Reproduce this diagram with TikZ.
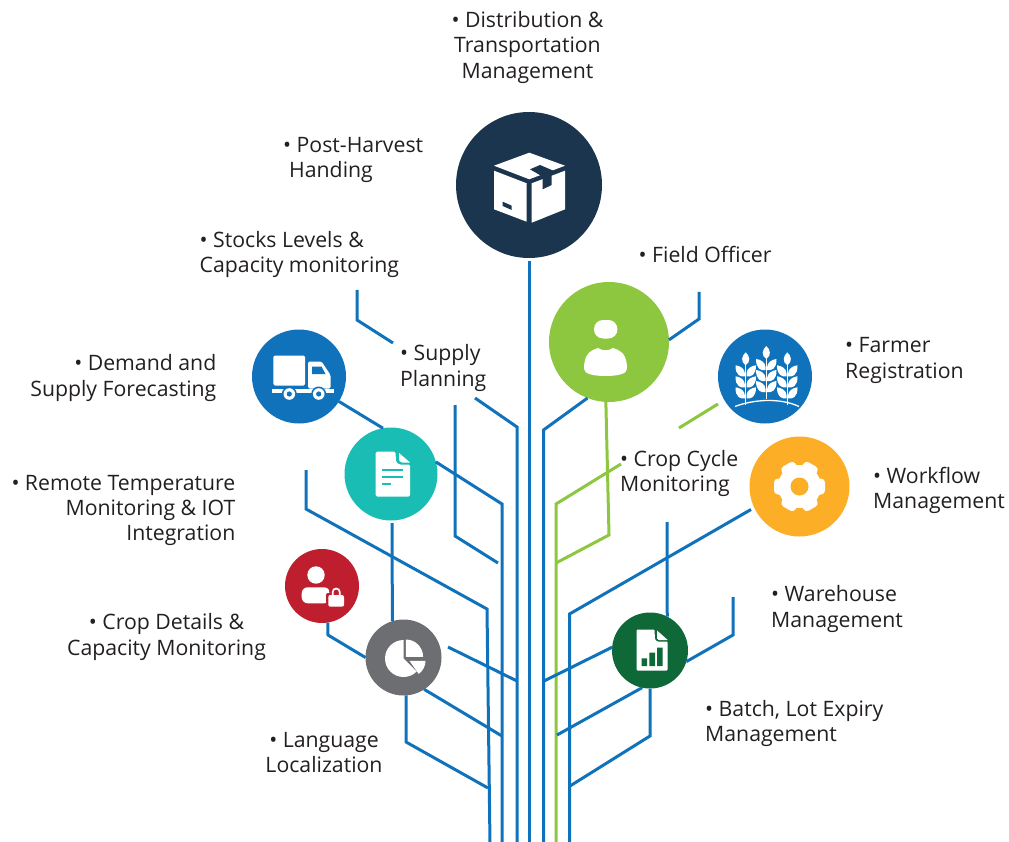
\documentclass[tikz,border=0pt]{standalone}
\usepackage{fontspec}
\setmainfont{Open Sans}
\definecolor{navy}{HTML}{1B354F}
\definecolor{leaf}{HTML}{8DC63F}
\definecolor{bluec}{HTML}{1072BA}
\definecolor{tealc}{HTML}{19BDB3}
\definecolor{redc}{HTML}{BE1E2D}
\definecolor{grayc}{HTML}{6D6E71}
\definecolor{forest}{HTML}{0F6838}
\definecolor{amber}{HTML}{FBAE26}
\definecolor{inkc}{HTML}{231F20}
\tikzset{
  hub/.style={circle,inner sep=0pt,outer sep=0pt,minimum size=#1},
  wire/.style={draw=bluec,line width=3pt,miter limit=10},
  greenwire/.style={draw=leaf,line width=3pt,miter limit=10},
  lab/.style={text=inkc,inner sep=0pt,font=\fontsize{21.25}{25.4}\selectfont},
  labl/.style={lab,anchor=west,align=left},
  labr/.style={lab,anchor=east,align=right},
  labc/.style={lab,anchor=center,align=center},
}
\newcommand\wheatstalk[2]{%
  \begin{scope}[shift={(#1,#2)}]
    \draw[white,line width=1.2pt] (0,-18) -- (0,22.5);
    \fill[white] (0,-17.5) .. controls (-5.5,-21) and (-4,-27) .. (0,-30.5) .. controls (4,-27) and (5.5,-21) .. (0,-17.5) -- cycle;
    \foreach \ly in {-6.5,4.5,15.5}{
      \begin{scope}[shift={(0,\ly)}]
        \fill[white] (-0.8,0) .. controls (-5,1) and (-10.5,-1) .. (-10.2,-11) .. controls (-6,-10.5) and (-1,-8) .. (-0.8,-3) -- cycle;
        \fill[white] (0.8,0) .. controls (5,1) and (10.5,-1) .. (10.2,-11) .. controls (6,-10.5) and (1,-8) .. (0.8,-3) -- cycle;
      \end{scope}
    }
  \end{scope}}
\begin{document}
\begin{tikzpicture}[x=1pt,y=1pt,yscale=-1]
\useasboundingbox (0,0) rectangle (1009,842);
% hubs
\node[hub=146pt,fill=navy]   (box)     at (529,185)   {};
\node[hub=120pt,fill=leaf]   (officer) at (609,342)   {};
\node[hub=94pt,fill=bluec]   (wheat)   at (765,376.5) {};
\node[hub=100pt,fill=amber]  (gear)    at (799.5,486.5) {};
\node[hub=76pt,fill=forest]  (chart)   at (650,650.5) {};
\node[hub=94pt,fill=bluec]   (truck)   at (299,376.5) {};
\node[hub=93pt,fill=tealc]   (doc)     at (391,474)   {};
\node[hub=74pt,fill=redc]    (lock)    at (322,586)   {};
\node[hub=76pt,fill=grayc]   (pie)     at (403.5,657.5) {};
% named bends and free ends
\coordinate (boxend) at (529,261);   \coordinate (b529) at (529,844);
\coordinate (sp1) at (475,398); \coordinate (sp2) at (517,427); \coordinate (b517) at (517,844);
\coordinate (sl1) at (455,405); \coordinate (sl2) at (455,536); \coordinate (sl3) at (498,563);
\coordinate (st1) at (357,290); \coordinate (st2) at (357,320); \coordinate (st3) at (393,343);
\coordinate (dr1) at (502,504); \coordinate (b502) at (502,844);
\coordinate (rt1) at (306,470); \coordinate (rt2) at (306,509); \coordinate (rt3) at (487,609); \coordinate (b490) at (490,844);
\coordinate (docb) at (392,523);
\coordinate (lk1) at (328,635);
\coordinate (pr1) at (448,647); \coordinate (pr2) at (517,681);
\coordinate (pl1) at (502,736);
\coordinate (pb1) at (406,742); \coordinate (pb2) at (488,788);
\coordinate (of1) at (699,292); \coordinate (of2) at (699,319);
\coordinate (of3) at (543.5,430); \coordinate (b543) at (543.5,844);
\coordinate (gd1) at (609,535); \coordinate (gd2) at (556,563);
\coordinate (wh1) at (718,404); \coordinate (wh2) at (679,428);
\coordinate (cc1) at (621,464); \coordinate (cc2) at (556,504); \coordinate (b556) at (556,844);
\coordinate (gearend) at (751,509.5);
\coordinate (gr1) at (569.5,614); \coordinate (b569) at (569.5,844);
\coordinate (cy1) at (667,522);
\coordinate (ch1) at (544,681);
\coordinate (wa1) at (733,597); \coordinate (wa2) at (733,635);
\coordinate (ch2) at (557,735);
\coordinate (ch3) at (650,736); \coordinate (ch4) at (570,786);
% connectors
\draw[greenwire] (officer.267) -- (gd1) -- (gd2);
\draw[greenwire] (wh1) -- (wh2);
\draw[greenwire] (cc1) -- (cc2) -- (b556);
\draw[wire] (boxend) -- (b529);
\draw[wire] (sp1) -- (sp2) -- (b517);
\draw[wire] (sl1) -- (sl2) -- (sl3);
\draw[wire] (st1) -- (st2) -- (st3);
\draw[wire] (truck.328) -- (doc.100);
\draw[wire] (doc.15) -- (dr1) -- (b502);
\draw[wire] (rt1) -- (rt2) -- (rt3) -- (b490);
\draw[wire] (docb) -- (pie.107);
\draw[wire] (lock.279) -- (lk1) -- (pie.180);
\draw[wire] (pr1) -- (pr2);
\draw[wire] (pie.303) -- (pl1);
\draw[wire] (pie.274) -- (pb1) -- (pb2);
\draw[wire] (of1) -- (of2) -- (officer.2);
\draw[wire] (officer.249) -- (of3) -- (b543);
\draw[wire] (gearend) -- (gr1) -- (b569);
\draw[wire] (cy1) -- (chart.63);
\draw[wire] (chart.175) -- (ch1);
\draw[wire] (wa1) -- (wa2) -- (chart.343);
\draw[wire] (chart.258) -- (ch2);
\draw[wire] (chart.270) -- (ch3) -- (ch4);
% box icon
\begin{scope}[shift={(529,185)}]
  \fill[white] (-35,-19.3) -- (0.3,-32.3) -- (36,-19.3) -- (0.3,-5.7) -- cycle;
  \fill[white] (-35,-14.3) -- (-2.3,-1.7) -- (-2.3,36.7) -- (-35,24.3) -- cycle;
  \fill[white] (2.7,-1.7) -- (36,-14.3) -- (36,24.3) -- (2.7,37.7) -- cycle;
  \fill[navy] (1,-15.7) -- (11,-20) -- (24.3,-14.3) -- (22.7,-10) -- (22.7,0) -- (13.7,4.3) -- (13.7,-8.3) -- cycle;
  \fill[navy] (-26.3,16.7) -- (-17.3,20.7) -- (-17.3,25) -- (-26.3,21) -- cycle;
\end{scope}
% person icon
\begin{scope}[shift={(609,342)}]
  \fill[white,rounded corners=9pt] (-15,-22) rectangle (8.4,-3.5);
  \fill[white] (-25,27) .. controls (-25,13) and (-20,9) .. (-11,6) .. controls (-7,9) and (0,9) .. (4,6) .. controls (13,9) and (18,13) .. (18,27) .. controls (18,32) and (8,34) .. (-3.5,34) .. controls (-15,34) and (-25,32) .. (-25,27) -- cycle;
\end{scope}
% wheat icon
\begin{scope}[shift={(765,376.5)}]
  \wheatstalk{-19.3}{6.3}
  \wheatstalk{1.3}{0}
  \wheatstalk{22.3}{6.3}
  \draw[white,line width=1.3pt] (-30,30) .. controls (-12,23) and (15,21) .. (34,30);
\end{scope}
% gear icon
\begin{scope}[shift={(799.5,486.5)}]
  \fill[white] (0,0) circle (21.5);
  \foreach \a in {0,60,...,300}{
    \fill[white,rotate=\a,rounded corners=4pt] (14,-8) rectangle (25.5,8);
  }
  \fill[amber] (0,0) circle (9);
\end{scope}
% truck icon
\begin{scope}[shift={(299,376.5)}]
  \fill[white,rounded corners=1.5pt] (-25.7,-21) rectangle (6,9);
  \fill[white,rounded corners=1.5pt] (9,-15) -- (22.5,-15) -- (31.5,-1.5) -- (31.5,12) -- (9,12) -- cycle;
  \fill[bluec] (13,-10) -- (22.5,-10) -- (26.5,-2.5) -- (13,-2.5) -- cycle;
  \fill[white] (-27.3,12.5) rectangle (35,16);
  \foreach \wx in {-9.7,19.7}{
    \fill[bluec] (\wx,17.5) circle (7.5);
    \fill[white] (\wx,17.5) circle (5.8);
    \fill[bluec] (\wx,17.5) circle (2.6);
  }
\end{scope}
% document icon
\begin{scope}[shift={(391,474)}]
  \fill[white,rounded corners=1.5pt] (-15.3,-22.3) -- (4.5,-22.3) -- (5,-12) -- (8,-9.5) -- (19,-9.5) -- (19,22.7) -- (-15.3,22.7) -- cycle;
  \fill[white] (8,-21) -- (19,-11.5) -- (11,-11.5) .. controls (9,-12) and (8,-13) .. (8,-15) -- cycle;
  \draw[tealc,line width=2.2pt] (-9,-4) -- (12,-4) (-9,3.3) -- (12,3.3) (-9,10.3) -- (-0.5,10.3);
\end{scope}
% locked user icon
\begin{scope}[shift={(322,586)}]
  \fill[white] (-6,-11) circle (8.7);
  \fill[white,rounded corners=6pt] (-20.3,17.3) -- (-20.3,1.3) -- (8,1.3) -- (8,17.3) -- cycle;
  \fill[redc,rounded corners=2pt] (4,7) rectangle (24.5,23);
  \fill[redc] (14.2,5.5) circle (7);
  \draw[white,line width=1.7pt] (10.7,10) -- (10.7,6) arc[start angle=180,end angle=360,radius=3.5] -- (17.7,10);
  \fill[white,rounded corners=2pt] (6.3,9) rectangle (22,20.7);
\end{scope}
% pie icon
\begin{scope}[shift={(403.5,657.5)}]
  \fill[white] (0,1) -- (0,-17.5) arc[start angle=90,end angle=315,radius=18.5,y radius=-18.5] -- cycle;
  \fill[white] (2.3,-0.7) -- (2.3,-18) arc[start angle=90,end angle=0,radius=17.3,y radius=-17.3] -- cycle;
  \fill[white] (6,3.3) -- (22,3.3) arc[start angle=0,end angle=-55,radius=16,y radius=-16] -- cycle;
\end{scope}
% chart document icon
\begin{scope}[shift={(650,650.5)}]
  \fill[white,rounded corners=1pt] (-13.3,-21) -- (4.5,-21) -- (5,-11) -- (7,-9) -- (17.7,-9) -- (17.7,20) -- (-13.3,20) -- cycle;
  \fill[white] (7,-20) -- (17.7,-10.5) -- (8.5,-10.5) -- (7,-12) -- cycle;
  \fill[forest] (-8.3,7.8) rectangle (-2.8,15.5) (-0.7,2.2) rectangle (5,15.5) (7,-2.8) rectangle (12.7,15.5);
\end{scope}
% labels
\node[labc] (t1) at (527.5,47.2) {• Distribution \&\\Transportation\\Management};
\node[labl] (t2) at (283,160) {• Post-Harvest\\\hspace*{6pt}Handing};
\node[labl] (t3) at (199.5,254.5) {• Stocks Levels \&\\Capacity monitoring};
\node[labl] (t4) at (400,368) {• Supply\\Planning};
\node[labr] (t5) at (216.5,378) {• Demand and\\Supply Forecasting};
\node[labr] (t6) at (235.5,510.5) {• Remote Temperature\\Monitoring \& IOT\\Integration};
\node[labc] (t7) at (166.5,637) {• Crop Details \&\\Capacity Monitoring};
\node[labc] (t8) at (324,752.5) {• Language\\Localization};
\node[labl] (t9) at (638.5,254) {• Field Officer};
\node[labl] (t10) at (845,360.5) {• Farmer\\Registration};
\node[labl] (t11) at (620,473.5) {• Crop Cycle\\Monitoring};
\node[labl] (t12) at (873,490.5) {• Workflow\\Management};
\node[labl] (t13) at (771,609) {• Warehouse\\Management};
\node[labl] (t14) at (705,723.5) {• Batch, Lot Expiry\\Management};
\end{tikzpicture}
\end{document}
